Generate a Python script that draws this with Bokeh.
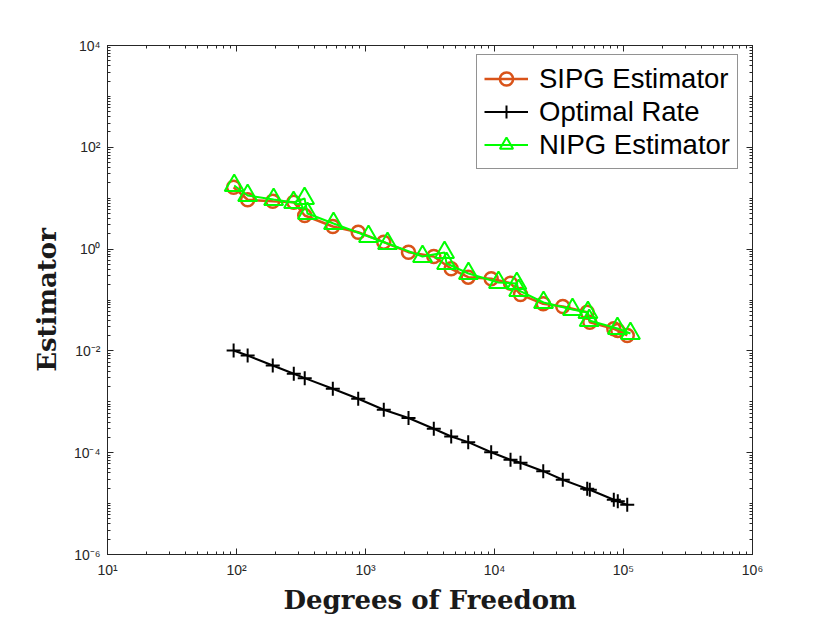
from bokeh.plotting import figure
from bokeh.models import FixedTicker, LogAxis, CustomJSTickFormatter, Legend, LegendItem
from bokeh.embed import file_html
from bokeh.resources import INLINE

# ---- data ----
sipg_dof = [95, 122, 191, 278, 338, 558, 878, 1386, 2155, 3384, 4617, 6255, 9425,
            13310, 15910, 23870, 33830, 52330, 54810, 84100, 90300, 106900]
sipg_est = [16.4, 9.3, 8.7, 8.3, 4.57, 2.78, 2.15, 1.37, 0.869, 0.716, 0.41, 0.281,
            0.261, 0.214, 0.128, 0.0842, 0.0745, 0.0575, 0.0366, 0.0272, 0.0251, 0.0201]
opt_rate = [0.0102, 0.0081, 0.00516, 0.00355, 0.00291, 0.0018, 0.00115, 0.000697,
            0.000481, 0.000295, 0.000208, 0.000161, 0.000102, 7.25e-5, 6.33e-5,
            4.33e-5, 2.94e-5, 1.95e-5, 1.87e-5, 1.19e-5, 1.11e-5, 9.46e-6]
nipg_dof = [96, 122, 194, 277, 337, 355, 565, 1055, 1482, 2767, 4100, 4250, 6282,
            10740, 14900, 15400, 23990, 40240, 53000, 54200, 89760, 113200]
nipg_est = [17.8, 11.3, 9.42, 8.24, 9.86, 5.0, 3.18, 1.77, 1.29, 0.716, 0.857, 0.521,
            0.332, 0.221, 0.211, 0.154, 0.0893, 0.065, 0.0568, 0.0396, 0.0275, 0.022]

x_major = [1e1, 1e2, 1e3, 1e4, 1e5, 1e6]
y_major = [1e-6, 1e-4, 1e-2, 1e0, 1e2, 1e4]
x_minor = [k * 10.0 ** n for n in range(1, 6) for k in range(2, 10)]
y_minor = [k * 10.0 ** n for n in range(-6, 4) for k in range(1, 10)]

SIPG_COLOR = "#D95319"
NIPG_COLOR = "#00FF00"
AX_COLOR = "#262626"

p = figure(width=830, height=623, x_axis_type="log", y_axis_type="log",
           x_range=(1e1, 1e6), y_range=(1e-6, 1e4),
           output_backend="svg", toolbar_location=None,
           min_border_left=107, min_border_right=78, min_border_top=45,
           min_border_bottom=69)
p.grid.visible = False
p.outline_line_color = AX_COLOR
p.outline_line_width = 1
p.background_fill_color = "white"
p.border_fill_color = "white"

fmt = CustomJSTickFormatter(code="""
const e = Math.round(Math.log10(tick));
const sup = {'-':'\u207b','0':'\u2070','1':'\u00b9','2':'\u00b2','3':'\u00b3','4':'\u2074','5':'\u2075','6':'\u2076','7':'\u2077','8':'\u2078','9':'\u2079'};
return '10' + String(e).split('').map(c => sup[c]).join('');
""")
blank = CustomJSTickFormatter(code="return '';")

def style_axis(ax, ticker, formatter):
    ax.ticker = ticker
    ax.formatter = formatter
    ax.major_tick_in = 6
    ax.major_tick_out = 0
    ax.minor_tick_in = 3
    ax.minor_tick_out = 0
    ax.axis_line_color = AX_COLOR
    ax.major_tick_line_color = AX_COLOR
    ax.minor_tick_line_color = AX_COLOR
    ax.major_label_text_color = AX_COLOR
    ax.major_label_text_font = "Liberation Sans"
    ax.major_label_text_font_size = "14px"

bottom = p.below[0]
left = p.left[0]
style_axis(bottom, FixedTicker(ticks=x_major, minor_ticks=x_minor), fmt)
style_axis(left, FixedTicker(ticks=y_major, minor_ticks=y_minor), fmt)
bottom.major_label_standoff = 7
left.major_label_standoff = 7

top = LogAxis()
right = LogAxis()
style_axis(top, FixedTicker(ticks=x_major, minor_ticks=x_minor), blank)
style_axis(right, FixedTicker(ticks=y_major, minor_ticks=y_minor), blank)
top.major_label_standoff = 0
right.major_label_standoff = 0
p.add_layout(top, "above")
p.add_layout(right, "right")

for ax, lab in ((bottom, "Degrees of Freedom"), (left, "Estimator")):
    ax.axis_label = lab
    ax.axis_label_text_font = "DejaVu Serif"
    ax.axis_label_text_font_style = "bold"
    ax.axis_label_text_font_size = "26px"
    ax.axis_label_text_color = "#1a1a1a"
bottom.axis_label_standoff = 4
left.axis_label_standoff = 9

# ---- series ----
l1 = p.line(sipg_dof, sipg_est, line_color=SIPG_COLOR, line_width=2.5)
s1 = p.scatter(sipg_dof, sipg_est, marker="circle", size=13, fill_color=None,
               line_color=SIPG_COLOR, line_width=2.5)
l2 = p.line(sipg_dof, opt_rate, line_color="black", line_width=2)
s2 = p.scatter(sipg_dof, opt_rate, marker="cross", size=14,
               line_color="black", line_width=2)
l3 = p.line(nipg_dof, nipg_est, line_color=NIPG_COLOR, line_width=2)
s3 = p.scatter(nipg_dof, nipg_est, marker="triangle", size=19, fill_color=None,
               line_color=NIPG_COLOR, line_width=2)

legend = Legend(items=[
    LegendItem(label="SIPG Estimator", renderers=[l1, s1]),
    LegendItem(label="Optimal Rate", renderers=[l2, s2]),
    LegendItem(label="NIPG Estimator", renderers=[l3, s3]),
], location=(369, 385))
legend.margin = 0
legend.padding = 7
legend.spacing = 0
legend.glyph_width = 44
legend.glyph_height = 33
legend.label_height = 33
legend.label_standoff = 11
legend.label_text_font = "Liberation Sans"
legend.label_text_font_size = "27.5px"
legend.label_text_color = "black"
legend.border_line_color = AX_COLOR
legend.border_line_width = 1
legend.background_fill_color = "white"
legend.background_fill_alpha = 1
p.add_layout(legend, "center")

open("out.html", "w").write(file_html(p, INLINE))
